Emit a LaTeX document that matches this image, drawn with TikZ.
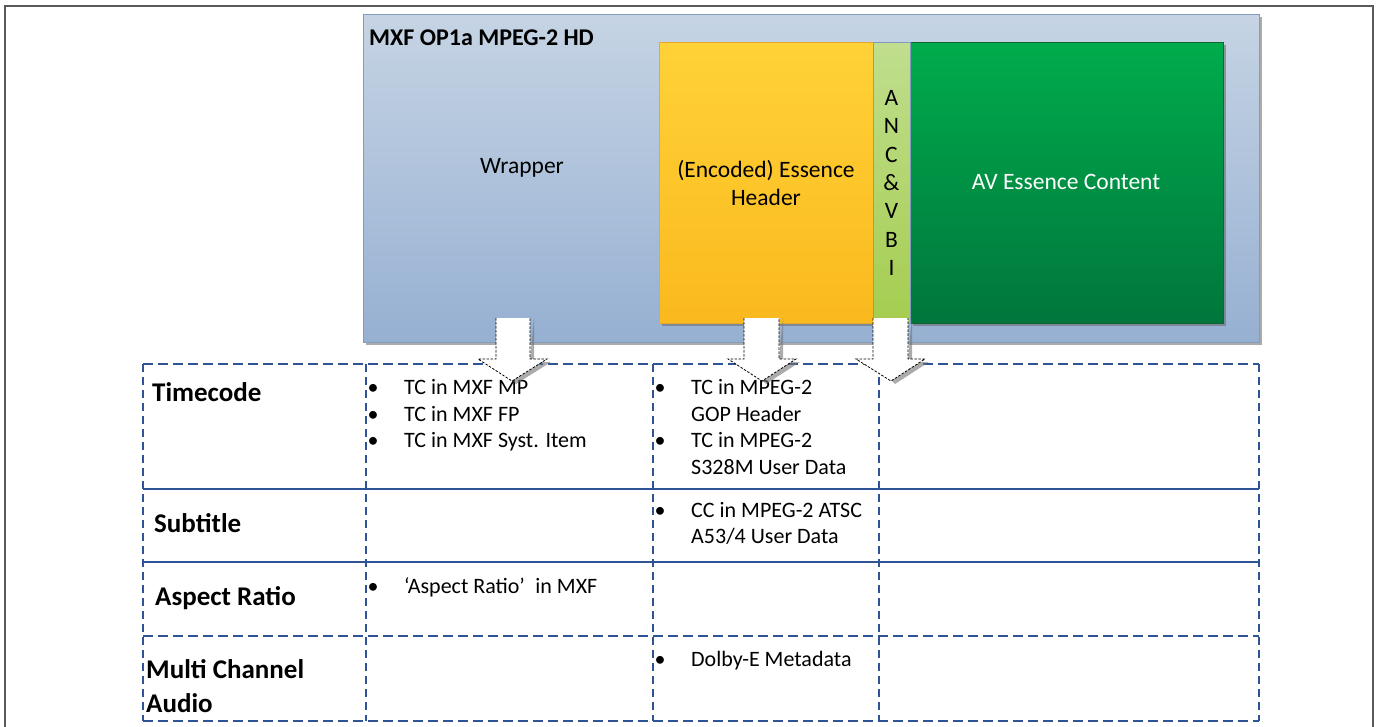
\documentclass[tikz,border=0pt]{standalone}
\usepackage{fontspec}
\setmainfont{Carlito}
\usetikzlibrary{shadows}
\definecolor{framegray}{RGB}{90,90,90}
\definecolor{wraptop}{RGB}{198,212,228}
\definecolor{wrapbot}{RGB}{150,176,210}
\definecolor{wrapline}{RGB}{130,156,192}
\definecolor{ytop}{RGB}{255,210,55}
\definecolor{ymid}{RGB}{255,200,10}
\definecolor{ybot}{RGB}{250,185,30}
\definecolor{yline}{RGB}{230,170,40}
\definecolor{ltop}{RGB}{192,222,142}
\definecolor{lbot}{RGB}{165,205,80}
\definecolor{gtop}{RGB}{0,172,76}
\definecolor{gbot}{RGB}{0,118,60}
\definecolor{gline}{RGB}{20,100,50}
\definecolor{tabblue}{RGB}{47,84,150}
\begin{document}
\begin{tikzpicture}[x=1pt,y=-1pt,
  box/.style={draw, inner sep=0pt, anchor=north west, line width=0.8pt},
  shad/.style={drop shadow={shadow xshift=3pt, shadow yshift=-3pt, fill=black!60, opacity=0.55}},
  toptext/.style={font=\fontsize{23.5}{28}\selectfont, inner sep=0pt, anchor=base},
  titletext/.style={font=\fontsize{24}{29}\selectfont\bfseries, inner sep=0pt, anchor=base west},
  labeltext/.style={font=\fontsize{27}{32}\selectfont\bfseries, inner sep=0pt, anchor=base west},
  bodytext/.style={font=\fontsize{22}{27}\selectfont, inner sep=0pt, anchor=base west},
  bul/.style={font=\fontsize{22}{27}\selectfont, inner sep=0pt, anchor=base},
  outerdash/.style={draw=tabblue, line width=1.8pt, dash pattern=on 10pt off 5pt},
  innerdash/.style={draw=tabblue, line width=1.2pt, dash pattern=on 8pt off 5pt},
  rowsolid/.style={draw=tabblue, line width=1.8pt},
  arrowbody/.style={fill=white, draw=black, line width=0.8pt, dash pattern=on 2.5pt off 1.5pt},
  arrowshadow/.style={fill=black!55, opacity=0.6}
]
\useasboundingbox (0,0) rectangle (1379,726);
% outer frame
\draw[framegray, line width=1.5pt] (5,730) -- (5,6) -- (1373,6) -- (1373,730);

% wrapper box
\node[box, shad, draw=wrapline, top color=wraptop, bottom color=wrapbot,
      minimum width=896pt, minimum height=328pt] (wrap) at (363,14) {};
\node[titletext] (title) at (369,45) {MXF OP1a MPEG-2 HD};
\node[toptext] (wraptxt) at (522,173) {Wrapper};

% essence header
\node[box, shad, draw=yline, top color=ytop, middle color=ymid, bottom color=ybot,
      minimum width=214pt, minimum height=281pt] (ess) at (659,42) {};
\node[toptext] (esstxt1) at (766,177) {(Encoded) Essence};
\node[toptext] (esstxt2) at (766,205) {Header};

% AV content
\node[box, shad, draw=gline, top color=gtop, bottom color=gbot,
      minimum width=313pt, minimum height=281pt] (av) at (910,42) {};
\node[toptext, text=white] (avtxt) at (1066,189) {AV Essence Content};

% ANC strip
\node[box, draw=wrapline, line width=0.5pt, top color=ltop, bottom color=lbot,
      minimum width=37pt, minimum height=281pt] (anc) at (873,42) {};
\foreach \ch [count=\i from 0] in {A,N,C,\&,V,B,I}
  \node[toptext] (anc\i) at (891.5,105.5+28.33*\i) {\ch};

% table
\coordinate (tl) at (143,364);
\coordinate (tr) at (1259,364);
\coordinate (bl) at (143,721);
\coordinate (br) at (1259,721);
\draw[innerdash] (tl) -- (bl);
\draw[innerdash] (tr) -- (br);
\foreach \x in {366,653,879}
  \draw[innerdash] (\x,364) -- (\x,721);
\draw[outerdash] (tl) -- (tr);
\draw[outerdash] (bl) -- (br);
\draw[rowsolid] (143,489) -- (1259,489);
\draw[rowsolid] (143,562) -- (1259,562);
\draw[outerdash] (143,636) -- (1259,636);

% labels
\node[labeltext] (lab1) at (152,401) {Timecode};
\node[labeltext] (lab2) at (154,532) {Subtitle};
\node[labeltext] (lab3) at (155,605) {Aspect Ratio};
\node[labeltext] (lab4a) at (146,678) {Multi Channel};
\node[labeltext] (lab4b) at (146,712) {Audio};

% column 1 cells
\node[bul] at (373,394) {•};
\node[bodytext] (c1a) at (404,394) {TC in MXF MP};
\node[bul] at (373,421) {•};
\node[bodytext] (c1b) at (404,421) {TC in MXF FP};
\node[bul] at (373,447) {•};
\node[bodytext] (c1c) at (404,447) {TC in MXF Syst. Item};
\node[bul] at (373,593) {•};
\node[bodytext] (c1d) at (404,593) {‘Aspect Ratio’\hspace{0.25em} in MXF};

% column 2 cells
\node[bul] at (660,394) {•};
\node[bodytext] (c2a) at (691,394) {TC in MPEG-2};
\node[bodytext] (c2b) at (691,421) {GOP Header};
\node[bul] at (660,447) {•};
\node[bodytext] (c2c) at (691,447) {TC in MPEG-2};
\node[bodytext] (c2d) at (691,474) {S328M User Data};
\node[bul] at (660,517) {•};
\node[bodytext] (c2e) at (691,517) {CC in MPEG-2 ATSC};
\node[bodytext] (c2f) at (691,543) {A53/4 User Data};
\node[bul] at (660,666) {•};
\node[bodytext] (c2g) at (691,666) {Dolby-E Metadata};

% block arrows
\foreach \xa/\xb/\ha/\hb/\tx in {496/530/478/547/512, 744/779/728/796/762, 873/908/856/925/891}{
  \fill[arrowshadow] (\xb+4,318) -- (\xb+4,362) -- (\hb+4,362) -- (\tx+4,384) -- (\tx,380) -- (\hb,359) -- (\xb,359) -- cycle;
  \fill[white] (\xa,318) -- (\xa,359) -- (\ha,359) -- (\tx,381) -- (\hb,359) -- (\xb,359) -- (\xb,318) -- cycle;
  \draw[arrowbody, fill=none] (\xa,318) -- (\xa,359) -- (\ha,359) -- (\tx,381) -- (\hb,359) -- (\xb,359) -- (\xb,318);
}
\end{tikzpicture}
\end{document}
